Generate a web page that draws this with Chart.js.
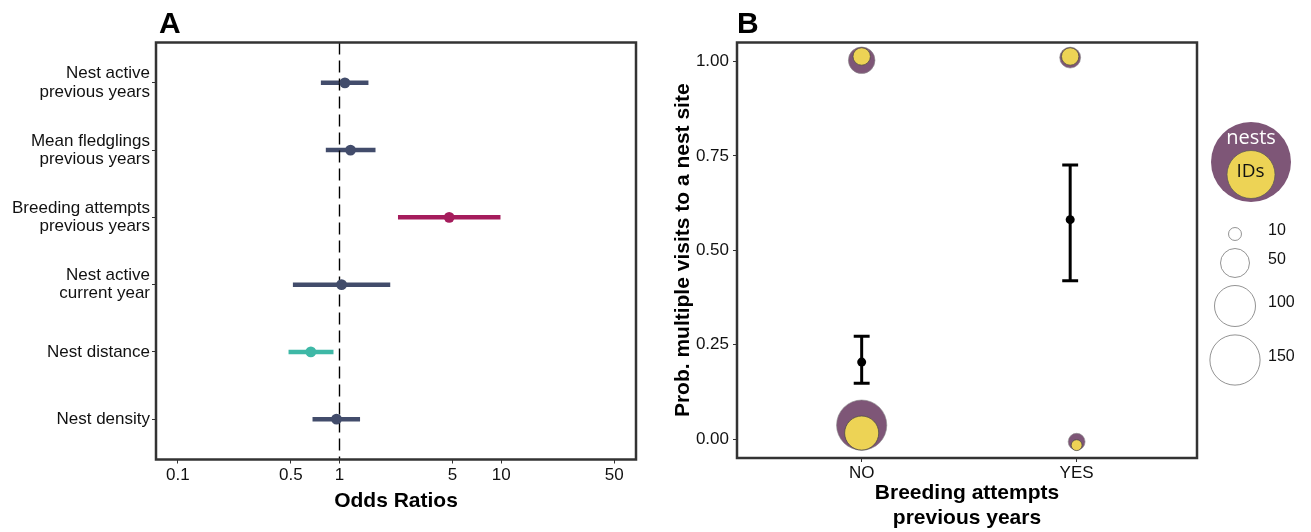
<!DOCTYPE html>
<html>
<head>
<meta charset="utf-8">
<title>Odds ratios and nest visits</title>
<script src="https://cdn.jsdelivr.net/npm/chart.js@4"></script>
<style>
  html, body { margin: 0; padding: 0; background: #fff; }
  #wrap { position: relative; width: 1311px; height: 532px; overflow: hidden; }
  #chartA { position: absolute; left: 0; top: 0; }
  #chartB { position: absolute; left: 660px; top: 0; }
  .panel { position: absolute; font: bold 30px "Liberation Sans", Arial, sans-serif; line-height: 30px; color: #000; }
</style>
</head>
<body>
<div id="wrap">
  <canvas id="chartA" width="660" height="532"></canvas>
  <canvas id="chartB" width="651" height="532"></canvas>
  <div class="panel" style="left:159px;top:8px">A</div>
  <div class="panel" style="left:737px;top:8px">B</div>
</div>
<script>
// ---- Panel A: odds ratios (95% CI) ----
const predictors = [
  ["Nest active", "previous years"],
  ["Mean fledglings", "previous years"],
  ["Breeding attempts", "previous years"],
  ["Nest active", "current year"],
  "Nest distance",
  "Nest density"
];
const oddsRatio = [1.08, 1.17, 4.77, 1.03, 0.665, 0.958];
const ciLow = [0.767, 0.823, 2.30, 0.515, 0.484, 0.681];
const ciHigh = [1.51, 1.67, 9.9, 2.06, 0.918, 1.34];
const xTicksA = [0.1, 0.5, 1, 5, 10, 50];

// ---- Panel B: probability of multiple visits ----
const groups = ["NO", "YES"];
const groupX = [1, 1.97];            // error bar positions
const probMean = [0.204, 0.581];
const probLow = [0.148, 0.419];
const probHigh = [0.272, 0.726];
const yTicksB = [0, 0.25, 0.5, 0.75, 1];

// bubbles (raw data, jittered): counts of nests and IDs
const bubbleX = [1, 1, 1.97, 2.0];
const nestsY = [0.037, 1.003, 1.01, -0.007];
const nestsN = [150, 42, 26, 17];
const idsY = [0.016, 1.013, 1.013, -0.016];
const idsN = [69, 18, 18, 7];
const legendSizes = [10, 50, 100, 150];

Chart.defaults.font.family = '"Liberation Sans", Arial, Helvetica, sans-serif';
Chart.defaults.color = '#111';

const FRAME = '#333333';
const PURPLE = '#7e5677';
const YELLOW = '#edd355';
const rowColors = ['#424c6b', '#424c6b', '#a51c5c', '#424c6b', '#3eb8a6', '#424c6b'];
const sizeToRadius = n => 2.05 * Math.sqrt(n);

// box around the plotting area (ggplot panel border)
const panelFrame = {
  id: 'panelFrame',
  afterDraw(chart) {
    const { ctx, chartArea: a } = chart;
    ctx.save();
    ctx.strokeStyle = FRAME;
    ctx.lineWidth = 2.5;
    ctx.strokeRect(a.left, a.top, a.right - a.left, a.bottom - a.top);
    ctx.restore();
  }
};

const tickGrid = { display: true, drawOnChartArea: false, tickLength: 4, color: FRAME, lineWidth: 1 };

// ---------- chart A ----------
const yMinA = 0.4, yMaxA = 6.6;
const dsA = [];
dsA.push({
  data: [{ x: 1, y: yMinA }, { x: 1, y: yMaxA }],
  showLine: true, borderColor: '#000', borderWidth: 1.4, borderDash: [12, 6],
  pointRadius: 0, order: 1
});
predictors.forEach((p, i) => {
  dsA.push({
    data: [{ x: ciLow[i], y: i + 1 }, { x: ciHigh[i], y: i + 1 }],
    showLine: true, borderColor: rowColors[i], borderWidth: 4.5, borderCapStyle: 'butt',
    pointRadius: 0, order: 2
  });
});
dsA.push({
  data: oddsRatio.map((v, i) => ({ x: v, y: i + 1 })),
  pointRadius: 5.4, pointBackgroundColor: rowColors, pointBorderWidth: 0, order: 0
});

new Chart(document.getElementById('chartA'), {
  type: 'scatter',
  data: { datasets: dsA },
  options: {
    responsive: false, animation: false, devicePixelRatio: 1, events: [],
    layout: { padding: { left: 0, top: 42.5, right: 24, bottom: 0 } },
    plugins: { legend: { display: false }, tooltip: { enabled: false } },
    scales: {
      x: {
        type: 'logarithmic', position: 'bottom', min: 0.0733, max: 68.2,
        afterBuildTicks: s => { s.ticks = xTicksA.map(v => ({ value: v })); },
        afterFit: s => { s.height = 72.5; },
        ticks: { callback: v => String(v), font: { size: 17 }, color: '#111', padding: 2,
                 autoSkip: false, maxRotation: 0, minRotation: 0 },
        grid: tickGrid,
        border: { display: false },
        title: { display: true, text: 'Odds Ratios', color: '#000',
                 font: { size: 21, weight: 'bold', lineHeight: 1.2 }, padding: { top: 0, bottom: 18 } }
      },
      y: {
        type: 'linear', min: yMinA, max: yMaxA, reverse: true,
        afterBuildTicks: s => { s.ticks = predictors.map((p, i) => ({ value: i + 1 })); },
        afterFit: s => { s.width = 156; },
        ticks: { callback: v => predictors[Math.round(v) - 1], font: { size: 17, lineHeight: 1.08 },
                 color: '#111', padding: 2, autoSkip: false },
        grid: tickGrid,
        border: { display: false }
      }
    }
  },
  plugins: [panelFrame]
});

// ---------- chart B ----------
const capHalf = 0.037;
const dsB = [];
groups.forEach((g, i) => {
  const x = groupX[i];
  dsB.push({
    data: [
      { x: x - capHalf, y: probLow[i] }, { x: x + capHalf, y: probLow[i] }, { x: x, y: probLow[i] },
      { x: x, y: probHigh[i] }, { x: x - capHalf, y: probHigh[i] }, { x: x + capHalf, y: probHigh[i] }
    ],
    showLine: true, borderColor: '#000', borderWidth: 3, borderCapStyle: 'butt', borderJoinStyle: 'bevel',
    pointRadius: 0, order: 0
  });
});
dsB.push({
  data: groupX.map((x, i) => ({ x: x, y: probMean[i] })),
  pointRadius: 4.5, pointBackgroundColor: '#000', pointBorderWidth: 0, order: 0
});
dsB.push({
  type: 'bubble',
  data: bubbleX.map((x, i) => ({ x: x, y: nestsY[i], r: sizeToRadius(nestsN[i]) })),
  backgroundColor: PURPLE, borderColor: '#8a8a8a', borderWidth: 0.6, order: 2, clip: false
});
dsB.push({
  type: 'bubble',
  data: bubbleX.map((x, i) => ({ x: x, y: idsY[i], r: sizeToRadius(idsN[i]) })),
  backgroundColor: YELLOW, borderColor: '#444', borderWidth: 0.7, order: 1, clip: false
});

// size key on the right
const sizeKey = {
  id: 'sizeKey',
  afterDraw(chart) {
    const ctx = chart.ctx;
    ctx.save();
    ctx.fillStyle = PURPLE;
    ctx.beginPath(); ctx.arc(591, 162, 40, 0, Math.PI * 2); ctx.fill();
    ctx.fillStyle = YELLOW;
    ctx.strokeStyle = '#555'; ctx.lineWidth = 0.7;
    ctx.beginPath(); ctx.arc(591, 174.5, 24, 0, Math.PI * 2); ctx.fill(); ctx.stroke();
    ctx.textAlign = 'center'; ctx.textBaseline = 'middle';
    ctx.fillStyle = '#fff';
    ctx.font = '20px "Open Sans", "Liberation Sans", sans-serif';
    ctx.fillText('nests', 591, 138);
    ctx.fillStyle = '#111';
    ctx.font = '19px "Open Sans", "Liberation Sans", sans-serif';
    ctx.fillText('IDs', 590.5, 172);

    const ys = [234, 263, 306, 360];
    ctx.strokeStyle = '#777'; ctx.lineWidth = 0.8;
    ctx.textAlign = 'left';
    ctx.font = '16px "Liberation Sans", Arial, sans-serif';
    legendSizes.forEach((n, i) => {
      ctx.beginPath(); ctx.arc(575, ys[i], sizeToRadius(n), 0, Math.PI * 2); ctx.stroke();
      ctx.fillText(String(n), 608, ys[i] - 3);
    });
    ctx.restore();
  }
};

new Chart(document.getElementById('chartB'), {
  type: 'scatter',
  data: { datasets: dsB },
  options: {
    responsive: false, animation: false, devicePixelRatio: 1, events: [],
    layout: { padding: { left: 0, top: 42.5, right: 114, bottom: 0 } },
    plugins: { legend: { display: false }, tooltip: { enabled: false } },
    scales: {
      x: {
        type: 'linear', min: 0.42, max: 2.56,
        afterBuildTicks: s => { s.ticks = groups.map((g, i) => ({ value: i + 1 })); },
        afterFit: s => { s.height = 74; },
        ticks: { callback: v => groups[Math.round(v) - 1], font: { size: 17 }, color: '#111', padding: 1.5,
                 autoSkip: false, maxRotation: 0, minRotation: 0 },
        grid: tickGrid,
        border: { display: false },
        title: { display: true, text: ['Breeding attempts', 'previous years'], color: '#000',
                 font: { size: 21, weight: 'bold', lineHeight: 1.19 }, padding: { top: 0, bottom: 1 } }
      },
      y: {
        type: 'linear', min: -0.05, max: 1.05,
        afterBuildTicks: s => { s.ticks = yTicksB.map(v => ({ value: v })); },
        afterFit: s => { s.width = 77; },
        ticks: { callback: v => v.toFixed(2), font: { size: 17 }, color: '#111', padding: 4, autoSkip: false },
        grid: tickGrid,
        border: { display: false },
        title: { display: true, text: 'Prob. multiple visits to a nest site', color: '#000',
                 font: { size: 21, weight: 'bold', lineHeight: 1.2 }, padding: { top: 11, bottom: 0 } }
      }
    }
  },
  plugins: [panelFrame, sizeKey]
});
</script>
</body>
</html>
